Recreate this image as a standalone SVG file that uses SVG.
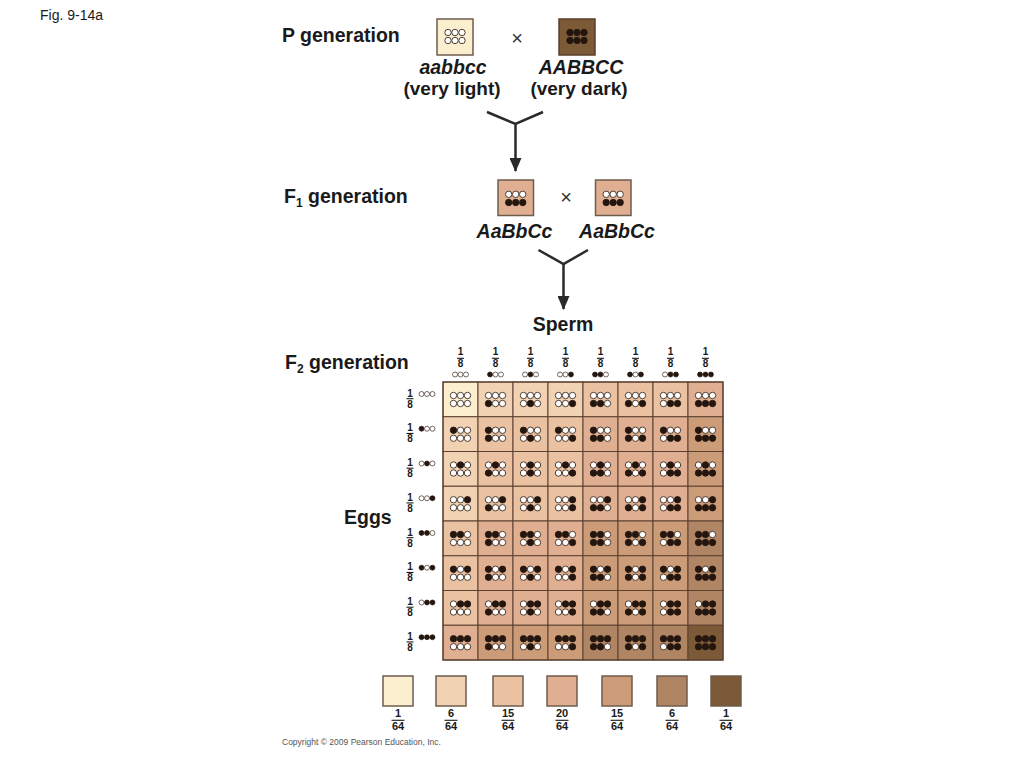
<svg xmlns="http://www.w3.org/2000/svg" xmlns:xlink="http://www.w3.org/1999/xlink" width="1024" height="768" viewBox="0 0 1024 768">
<style>
text{font-family:"Liberation Sans",Arial,sans-serif;fill:#1a1a1a}
.h{font-size:19.5px;font-weight:bold}
.hs{font-size:19px;font-weight:bold}
.hi{font-size:19.5px;font-weight:bold;font-style:italic}
.x{font-size:20px;fill:#333}
.fr{font-size:10px;font-weight:bold;text-anchor:middle}
.lf{font-size:11px;font-weight:bold;text-anchor:middle}
.bar{stroke:#1a1a1a;stroke-width:1.1}
.w{fill:#fff;stroke:#3b2a20;stroke-width:0.9}
.d{fill:#24160f;stroke:#24160f;stroke-width:0.9}
.cell rect{stroke:#5b4130;stroke-width:1}
.k0{fill:#fbefd0}.k1{fill:#f1d2b3}.k2{fill:#eac1a1}.k3{fill:#e0ae90}.k4{fill:#cc9c78}.k5{fill:#b08563}.k6{fill:#7c5a37}
.conn{fill:none;stroke:#2a2a2a;stroke-width:2.5}
.box{stroke:#6e5c4e;stroke-width:1.5}
.sw{stroke:#6e5c4e;stroke-width:1.5}
</style>
<defs>
<marker id="ah" markerUnits="userSpaceOnUse" markerWidth="14" markerHeight="12" refX="13" refY="6" orient="auto"><path d="M0,0 L14,6 L0,12 z" fill="#2a2a2a"/></marker>
<g id="g0"><circle class="w" cx="-7" r="3.2"/><circle class="w" r="3.2"/><circle class="w" cx="7" r="3.2"/></g>
<g id="g1"><circle class="d" cx="-7" r="3.2"/><circle class="w" r="3.2"/><circle class="w" cx="7" r="3.2"/></g>
<g id="g2"><circle class="w" cx="-7" r="3.2"/><circle class="d" r="3.2"/><circle class="w" cx="7" r="3.2"/></g>
<g id="g3"><circle class="w" cx="-7" r="3.2"/><circle class="w" r="3.2"/><circle class="d" cx="7" r="3.2"/></g>
<g id="g4"><circle class="d" cx="-7" r="3.2"/><circle class="d" r="3.2"/><circle class="w" cx="7" r="3.2"/></g>
<g id="g5"><circle class="d" cx="-7" r="3.2"/><circle class="w" r="3.2"/><circle class="d" cx="7" r="3.2"/></g>
<g id="g6"><circle class="w" cx="-7" r="3.2"/><circle class="d" r="3.2"/><circle class="d" cx="7" r="3.2"/></g>
<g id="g7"><circle class="d" cx="-7" r="3.2"/><circle class="d" r="3.2"/><circle class="d" cx="7" r="3.2"/></g>
</defs>
<rect width="1024" height="768" fill="#fff"/>
<text x="40" y="20" style="font-size:14px">Fig. 9-14a</text>

<g id="p-generation">
<text class="h" x="282" y="41.5">P generation</text>
<g id="p-light"><rect class="box k0" x="437" y="19" width="36" height="36"/><use href="#g0" x="455" y="32.5"/><use href="#g0" x="455" y="40.5"/></g>
<text class="x" x="517" y="45" text-anchor="middle">×</text>
<g id="p-dark"><rect class="box k6" x="559" y="19" width="36" height="36" style="stroke:#5a4028"/><use href="#g7" x="577" y="32.5"/><use href="#g7" x="577" y="40.5"/></g>
<text class="hi" x="453" y="74" text-anchor="middle">aabbcc</text>
<text class="hs" x="452" y="95" text-anchor="middle">(very light)</text>
<text class="hi" x="581" y="74" text-anchor="middle">AABBCC</text>
<text class="hs" x="579" y="95" text-anchor="middle">(very dark)</text>
</g>

<g id="f1-generation">
<text class="h" x="284" y="203">F<tspan style="font-size:12px" dy="4">1</tspan><tspan dy="-4"> generation</tspan></text>
<g id="f1-a"><rect class="box k3" x="498" y="180" width="35.5" height="35.5"/><use href="#g0" x="515.7" y="194.3"/><use href="#g7" x="515.7" y="202.5"/></g>
<text class="x" x="566" y="204" text-anchor="middle">×</text>
<g id="f1-b"><rect class="box k3" x="595.5" y="180" width="35.5" height="35.5"/><use href="#g0" x="613.2" y="194.3"/><use href="#g7" x="613.2" y="202.5"/></g>
<text class="hi" x="514.5" y="237.5" text-anchor="middle">AaBbCc</text>
<text class="hi" x="617" y="237.5" text-anchor="middle">AaBbCc</text>
</g>

<g id="connectors">
<path class="conn" d="M487,112 L515.5,124 L543,112"/>
<path class="conn" d="M515.5,124 L515.5,171" marker-end="url(#ah)"/>
<path class="conn" d="M538.5,250 L563.5,264 L588,250"/>
<path class="conn" d="M563.5,264 L563.5,309" marker-end="url(#ah)"/>
</g>

<g id="f2-generation">
<text class="h" x="563" y="331" text-anchor="middle">Sperm</text>
<text class="h" x="285" y="369">F<tspan style="font-size:12px" dy="4">2</tspan><tspan dy="-4"> generation</tspan></text>
<text class="h" x="344" y="524">Eggs</text>
</g>

<g id="sperm-headers">
<g><text class="fr" x="460.5" y="355">1</text><line class="bar" x1="457" x2="464" y1="358.3" y2="358.3"/><text class="fr" x="460.5" y="367">8</text><use href="#g0" transform="translate(460.5,374.5) scale(0.78)"/></g>
<g><text class="fr" x="495.5" y="355">1</text><line class="bar" x1="492" x2="499" y1="358.3" y2="358.3"/><text class="fr" x="495.5" y="367">8</text><use href="#g1" transform="translate(495.5,374.5) scale(0.78)"/></g>
<g><text class="fr" x="530.5" y="355">1</text><line class="bar" x1="527" x2="534" y1="358.3" y2="358.3"/><text class="fr" x="530.5" y="367">8</text><use href="#g2" transform="translate(530.5,374.5) scale(0.78)"/></g>
<g><text class="fr" x="565.5" y="355">1</text><line class="bar" x1="562" x2="569" y1="358.3" y2="358.3"/><text class="fr" x="565.5" y="367">8</text><use href="#g3" transform="translate(565.5,374.5) scale(0.78)"/></g>
<g><text class="fr" x="600.5" y="355">1</text><line class="bar" x1="597" x2="604" y1="358.3" y2="358.3"/><text class="fr" x="600.5" y="367">8</text><use href="#g4" transform="translate(600.5,374.5) scale(0.78)"/></g>
<g><text class="fr" x="635.5" y="355">1</text><line class="bar" x1="632" x2="639" y1="358.3" y2="358.3"/><text class="fr" x="635.5" y="367">8</text><use href="#g5" transform="translate(635.5,374.5) scale(0.78)"/></g>
<g><text class="fr" x="670.5" y="355">1</text><line class="bar" x1="667" x2="674" y1="358.3" y2="358.3"/><text class="fr" x="670.5" y="367">8</text><use href="#g6" transform="translate(670.5,374.5) scale(0.78)"/></g>
<g><text class="fr" x="705.5" y="355">1</text><line class="bar" x1="702" x2="709" y1="358.3" y2="358.3"/><text class="fr" x="705.5" y="367">8</text><use href="#g7" transform="translate(705.5,374.5) scale(0.78)"/></g>
</g>

<g id="egg-labels">
<g><text class="fr" x="410" y="396.7">1</text><line class="bar" x1="406.5" x2="413.5" y1="398.7" y2="398.7"/><text class="fr" x="410" y="407.5">8</text><use href="#g0" transform="translate(427,394) scale(0.78)"/></g>
<g><text class="fr" x="410" y="431.45">1</text><line class="bar" x1="406.5" x2="413.5" y1="433.45" y2="433.45"/><text class="fr" x="410" y="442.25">8</text><use href="#g1" transform="translate(427,428.75) scale(0.78)"/></g>
<g><text class="fr" x="410" y="466.2">1</text><line class="bar" x1="406.5" x2="413.5" y1="468.2" y2="468.2"/><text class="fr" x="410" y="477">8</text><use href="#g2" transform="translate(427,463.5) scale(0.78)"/></g>
<g><text class="fr" x="410" y="500.95">1</text><line class="bar" x1="406.5" x2="413.5" y1="502.95" y2="502.95"/><text class="fr" x="410" y="511.75">8</text><use href="#g3" transform="translate(427,498.25) scale(0.78)"/></g>
<g><text class="fr" x="410" y="535.7">1</text><line class="bar" x1="406.5" x2="413.5" y1="537.7" y2="537.7"/><text class="fr" x="410" y="546.5">8</text><use href="#g4" transform="translate(427,533) scale(0.78)"/></g>
<g><text class="fr" x="410" y="570.45">1</text><line class="bar" x1="406.5" x2="413.5" y1="572.45" y2="572.45"/><text class="fr" x="410" y="581.25">8</text><use href="#g5" transform="translate(427,567.75) scale(0.78)"/></g>
<g><text class="fr" x="410" y="605.2">1</text><line class="bar" x1="406.5" x2="413.5" y1="607.2" y2="607.2"/><text class="fr" x="410" y="616">8</text><use href="#g6" transform="translate(427,602.5) scale(0.78)"/></g>
<g><text class="fr" x="410" y="639.95">1</text><line class="bar" x1="406.5" x2="413.5" y1="641.95" y2="641.95"/><text class="fr" x="410" y="650.75">8</text><use href="#g7" transform="translate(427,637.25) scale(0.78)"/></g>
</g>

<g id="punnett-grid">
<g class="cell" transform="translate(443,382)"><rect class="k0" width="35" height="34.75"/><use href="#g0" x="17.5" y="13.5"/><use href="#g0" x="17.5" y="21.5"/></g>
<g class="cell" transform="translate(478,382)"><rect class="k1" width="35" height="34.75"/><use href="#g0" x="17.5" y="13.5"/><use href="#g1" x="17.5" y="21.5"/></g>
<g class="cell" transform="translate(513,382)"><rect class="k1" width="35" height="34.75"/><use href="#g0" x="17.5" y="13.5"/><use href="#g2" x="17.5" y="21.5"/></g>
<g class="cell" transform="translate(548,382)"><rect class="k1" width="35" height="34.75"/><use href="#g0" x="17.5" y="13.5"/><use href="#g3" x="17.5" y="21.5"/></g>
<g class="cell" transform="translate(583,382)"><rect class="k2" width="35" height="34.75"/><use href="#g0" x="17.5" y="13.5"/><use href="#g4" x="17.5" y="21.5"/></g>
<g class="cell" transform="translate(618,382)"><rect class="k2" width="35" height="34.75"/><use href="#g0" x="17.5" y="13.5"/><use href="#g5" x="17.5" y="21.5"/></g>
<g class="cell" transform="translate(653,382)"><rect class="k2" width="35" height="34.75"/><use href="#g0" x="17.5" y="13.5"/><use href="#g6" x="17.5" y="21.5"/></g>
<g class="cell" transform="translate(688,382)"><rect class="k3" width="35" height="34.75"/><use href="#g0" x="17.5" y="13.5"/><use href="#g7" x="17.5" y="21.5"/></g>

<g class="cell" transform="translate(443,416.75)"><rect class="k1" width="35" height="34.75"/><use href="#g1" x="17.5" y="13.5"/><use href="#g0" x="17.5" y="21.5"/></g>
<g class="cell" transform="translate(478,416.75)"><rect class="k2" width="35" height="34.75"/><use href="#g1" x="17.5" y="13.5"/><use href="#g1" x="17.5" y="21.5"/></g>
<g class="cell" transform="translate(513,416.75)"><rect class="k2" width="35" height="34.75"/><use href="#g1" x="17.5" y="13.5"/><use href="#g2" x="17.5" y="21.5"/></g>
<g class="cell" transform="translate(548,416.75)"><rect class="k2" width="35" height="34.75"/><use href="#g1" x="17.5" y="13.5"/><use href="#g3" x="17.5" y="21.5"/></g>
<g class="cell" transform="translate(583,416.75)"><rect class="k3" width="35" height="34.75"/><use href="#g1" x="17.5" y="13.5"/><use href="#g4" x="17.5" y="21.5"/></g>
<g class="cell" transform="translate(618,416.75)"><rect class="k3" width="35" height="34.75"/><use href="#g1" x="17.5" y="13.5"/><use href="#g5" x="17.5" y="21.5"/></g>
<g class="cell" transform="translate(653,416.75)"><rect class="k3" width="35" height="34.75"/><use href="#g1" x="17.5" y="13.5"/><use href="#g6" x="17.5" y="21.5"/></g>
<g class="cell" transform="translate(688,416.75)"><rect class="k4" width="35" height="34.75"/><use href="#g1" x="17.5" y="13.5"/><use href="#g7" x="17.5" y="21.5"/></g>

<g class="cell" transform="translate(443,451.5)"><rect class="k1" width="35" height="34.75"/><use href="#g2" x="17.5" y="13.5"/><use href="#g0" x="17.5" y="21.5"/></g>
<g class="cell" transform="translate(478,451.5)"><rect class="k2" width="35" height="34.75"/><use href="#g2" x="17.5" y="13.5"/><use href="#g1" x="17.5" y="21.5"/></g>
<g class="cell" transform="translate(513,451.5)"><rect class="k2" width="35" height="34.75"/><use href="#g2" x="17.5" y="13.5"/><use href="#g2" x="17.5" y="21.5"/></g>
<g class="cell" transform="translate(548,451.5)"><rect class="k2" width="35" height="34.75"/><use href="#g2" x="17.5" y="13.5"/><use href="#g3" x="17.5" y="21.5"/></g>
<g class="cell" transform="translate(583,451.5)"><rect class="k3" width="35" height="34.75"/><use href="#g2" x="17.5" y="13.5"/><use href="#g4" x="17.5" y="21.5"/></g>
<g class="cell" transform="translate(618,451.5)"><rect class="k3" width="35" height="34.75"/><use href="#g2" x="17.5" y="13.5"/><use href="#g5" x="17.5" y="21.5"/></g>
<g class="cell" transform="translate(653,451.5)"><rect class="k3" width="35" height="34.75"/><use href="#g2" x="17.5" y="13.5"/><use href="#g6" x="17.5" y="21.5"/></g>
<g class="cell" transform="translate(688,451.5)"><rect class="k4" width="35" height="34.75"/><use href="#g2" x="17.5" y="13.5"/><use href="#g7" x="17.5" y="21.5"/></g>

<g class="cell" transform="translate(443,486.25)"><rect class="k1" width="35" height="34.75"/><use href="#g3" x="17.5" y="13.5"/><use href="#g0" x="17.5" y="21.5"/></g>
<g class="cell" transform="translate(478,486.25)"><rect class="k2" width="35" height="34.75"/><use href="#g3" x="17.5" y="13.5"/><use href="#g1" x="17.5" y="21.5"/></g>
<g class="cell" transform="translate(513,486.25)"><rect class="k2" width="35" height="34.75"/><use href="#g3" x="17.5" y="13.5"/><use href="#g2" x="17.5" y="21.5"/></g>
<g class="cell" transform="translate(548,486.25)"><rect class="k2" width="35" height="34.75"/><use href="#g3" x="17.5" y="13.5"/><use href="#g3" x="17.5" y="21.5"/></g>
<g class="cell" transform="translate(583,486.25)"><rect class="k3" width="35" height="34.75"/><use href="#g3" x="17.5" y="13.5"/><use href="#g4" x="17.5" y="21.5"/></g>
<g class="cell" transform="translate(618,486.25)"><rect class="k3" width="35" height="34.75"/><use href="#g3" x="17.5" y="13.5"/><use href="#g5" x="17.5" y="21.5"/></g>
<g class="cell" transform="translate(653,486.25)"><rect class="k3" width="35" height="34.75"/><use href="#g3" x="17.5" y="13.5"/><use href="#g6" x="17.5" y="21.5"/></g>
<g class="cell" transform="translate(688,486.25)"><rect class="k4" width="35" height="34.75"/><use href="#g3" x="17.5" y="13.5"/><use href="#g7" x="17.5" y="21.5"/></g>

<g class="cell" transform="translate(443,521)"><rect class="k2" width="35" height="34.75"/><use href="#g4" x="17.5" y="13.5"/><use href="#g0" x="17.5" y="21.5"/></g>
<g class="cell" transform="translate(478,521)"><rect class="k3" width="35" height="34.75"/><use href="#g4" x="17.5" y="13.5"/><use href="#g1" x="17.5" y="21.5"/></g>
<g class="cell" transform="translate(513,521)"><rect class="k3" width="35" height="34.75"/><use href="#g4" x="17.5" y="13.5"/><use href="#g2" x="17.5" y="21.5"/></g>
<g class="cell" transform="translate(548,521)"><rect class="k3" width="35" height="34.75"/><use href="#g4" x="17.5" y="13.5"/><use href="#g3" x="17.5" y="21.5"/></g>
<g class="cell" transform="translate(583,521)"><rect class="k4" width="35" height="34.75"/><use href="#g4" x="17.5" y="13.5"/><use href="#g4" x="17.5" y="21.5"/></g>
<g class="cell" transform="translate(618,521)"><rect class="k4" width="35" height="34.75"/><use href="#g4" x="17.5" y="13.5"/><use href="#g5" x="17.5" y="21.5"/></g>
<g class="cell" transform="translate(653,521)"><rect class="k4" width="35" height="34.75"/><use href="#g4" x="17.5" y="13.5"/><use href="#g6" x="17.5" y="21.5"/></g>
<g class="cell" transform="translate(688,521)"><rect class="k5" width="35" height="34.75"/><use href="#g4" x="17.5" y="13.5"/><use href="#g7" x="17.5" y="21.5"/></g>

<g class="cell" transform="translate(443,555.75)"><rect class="k2" width="35" height="34.75"/><use href="#g5" x="17.5" y="13.5"/><use href="#g0" x="17.5" y="21.5"/></g>
<g class="cell" transform="translate(478,555.75)"><rect class="k3" width="35" height="34.75"/><use href="#g5" x="17.5" y="13.5"/><use href="#g1" x="17.5" y="21.5"/></g>
<g class="cell" transform="translate(513,555.75)"><rect class="k3" width="35" height="34.75"/><use href="#g5" x="17.5" y="13.5"/><use href="#g2" x="17.5" y="21.5"/></g>
<g class="cell" transform="translate(548,555.75)"><rect class="k3" width="35" height="34.75"/><use href="#g5" x="17.5" y="13.5"/><use href="#g3" x="17.5" y="21.5"/></g>
<g class="cell" transform="translate(583,555.75)"><rect class="k4" width="35" height="34.75"/><use href="#g5" x="17.5" y="13.5"/><use href="#g4" x="17.5" y="21.5"/></g>
<g class="cell" transform="translate(618,555.75)"><rect class="k4" width="35" height="34.75"/><use href="#g5" x="17.5" y="13.5"/><use href="#g5" x="17.5" y="21.5"/></g>
<g class="cell" transform="translate(653,555.75)"><rect class="k4" width="35" height="34.75"/><use href="#g5" x="17.5" y="13.5"/><use href="#g6" x="17.5" y="21.5"/></g>
<g class="cell" transform="translate(688,555.75)"><rect class="k5" width="35" height="34.75"/><use href="#g5" x="17.5" y="13.5"/><use href="#g7" x="17.5" y="21.5"/></g>

<g class="cell" transform="translate(443,590.5)"><rect class="k2" width="35" height="34.75"/><use href="#g6" x="17.5" y="13.5"/><use href="#g0" x="17.5" y="21.5"/></g>
<g class="cell" transform="translate(478,590.5)"><rect class="k3" width="35" height="34.75"/><use href="#g6" x="17.5" y="13.5"/><use href="#g1" x="17.5" y="21.5"/></g>
<g class="cell" transform="translate(513,590.5)"><rect class="k3" width="35" height="34.75"/><use href="#g6" x="17.5" y="13.5"/><use href="#g2" x="17.5" y="21.5"/></g>
<g class="cell" transform="translate(548,590.5)"><rect class="k3" width="35" height="34.75"/><use href="#g6" x="17.5" y="13.5"/><use href="#g3" x="17.5" y="21.5"/></g>
<g class="cell" transform="translate(583,590.5)"><rect class="k4" width="35" height="34.75"/><use href="#g6" x="17.5" y="13.5"/><use href="#g4" x="17.5" y="21.5"/></g>
<g class="cell" transform="translate(618,590.5)"><rect class="k4" width="35" height="34.75"/><use href="#g6" x="17.5" y="13.5"/><use href="#g5" x="17.5" y="21.5"/></g>
<g class="cell" transform="translate(653,590.5)"><rect class="k4" width="35" height="34.75"/><use href="#g6" x="17.5" y="13.5"/><use href="#g6" x="17.5" y="21.5"/></g>
<g class="cell" transform="translate(688,590.5)"><rect class="k5" width="35" height="34.75"/><use href="#g6" x="17.5" y="13.5"/><use href="#g7" x="17.5" y="21.5"/></g>

<g class="cell" transform="translate(443,625.25)"><rect class="k3" width="35" height="34.75"/><use href="#g7" x="17.5" y="13.5"/><use href="#g0" x="17.5" y="21.5"/></g>
<g class="cell" transform="translate(478,625.25)"><rect class="k4" width="35" height="34.75"/><use href="#g7" x="17.5" y="13.5"/><use href="#g1" x="17.5" y="21.5"/></g>
<g class="cell" transform="translate(513,625.25)"><rect class="k4" width="35" height="34.75"/><use href="#g7" x="17.5" y="13.5"/><use href="#g2" x="17.5" y="21.5"/></g>
<g class="cell" transform="translate(548,625.25)"><rect class="k4" width="35" height="34.75"/><use href="#g7" x="17.5" y="13.5"/><use href="#g3" x="17.5" y="21.5"/></g>
<g class="cell" transform="translate(583,625.25)"><rect class="k5" width="35" height="34.75"/><use href="#g7" x="17.5" y="13.5"/><use href="#g4" x="17.5" y="21.5"/></g>
<g class="cell" transform="translate(618,625.25)"><rect class="k5" width="35" height="34.75"/><use href="#g7" x="17.5" y="13.5"/><use href="#g5" x="17.5" y="21.5"/></g>
<g class="cell" transform="translate(653,625.25)"><rect class="k5" width="35" height="34.75"/><use href="#g7" x="17.5" y="13.5"/><use href="#g6" x="17.5" y="21.5"/></g>
<g class="cell" transform="translate(688,625.25)"><rect class="k6" width="35" height="34.75"/><use href="#g7" x="17.5" y="13.5"/><use href="#g7" x="17.5" y="21.5"/></g>
<rect x="443" y="382" width="280" height="278" fill="none" stroke="#5b4130" stroke-width="1.2"/>
</g>

<g id="legend">
<g><rect class="sw k0" x="383" y="676" width="30" height="30"/><text class="lf" x="398" y="717.3">1</text><line class="bar" x1="391.5" x2="404.5" y1="720.3" y2="720.3"/><text class="lf" x="398" y="730">64</text></g>
<g><rect class="sw k1" x="436" y="676" width="30" height="30"/><text class="lf" x="451" y="717.3">6</text><line class="bar" x1="444.5" x2="457.5" y1="720.3" y2="720.3"/><text class="lf" x="451" y="730">64</text></g>
<g><rect class="sw k2" x="493" y="676" width="30" height="30"/><text class="lf" x="508" y="717.3">15</text><line class="bar" x1="501.5" x2="514.5" y1="720.3" y2="720.3"/><text class="lf" x="508" y="730">64</text></g>
<g><rect class="sw k3" x="547" y="676" width="30" height="30"/><text class="lf" x="562" y="717.3">20</text><line class="bar" x1="555.5" x2="568.5" y1="720.3" y2="720.3"/><text class="lf" x="562" y="730">64</text></g>
<g><rect class="sw k4" x="602" y="676" width="30" height="30"/><text class="lf" x="617" y="717.3">15</text><line class="bar" x1="610.5" x2="623.5" y1="720.3" y2="720.3"/><text class="lf" x="617" y="730">64</text></g>
<g><rect class="sw k5" x="657" y="676" width="30" height="30"/><text class="lf" x="672" y="717.3">6</text><line class="bar" x1="665.5" x2="678.5" y1="720.3" y2="720.3"/><text class="lf" x="672" y="730">64</text></g>
<g><rect class="sw k6" x="711" y="676" width="30" height="30"/><text class="lf" x="726" y="717.3">1</text><line class="bar" x1="719.5" x2="732.5" y1="720.3" y2="720.3"/><text class="lf" x="726" y="730">64</text></g>
</g>
<text x="282" y="745" style="font-size:8.5px;fill:#555">Copyright © 2009 Pearson Education, Inc.</text>
</svg>
